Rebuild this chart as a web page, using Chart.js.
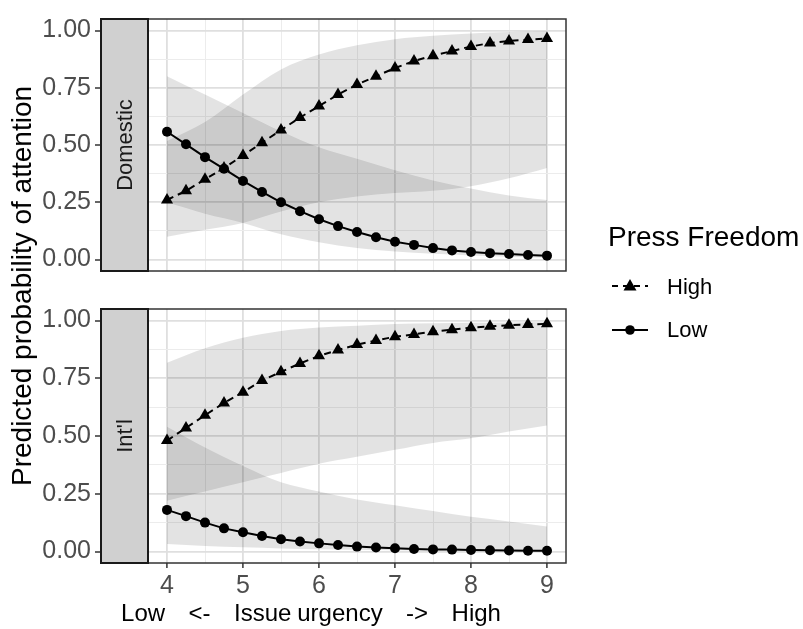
<!DOCTYPE html>
<html>
<head>
<meta charset="utf-8">
<script src="https://cdn.jsdelivr.net/npm/chart.js@4.4.1/dist/chart.umd.min.js"></script>
<style>
  body { margin: 0; background: #fff; font-family: "Liberation Sans", Arial, sans-serif; }
  #wrap { position: relative; width: 803px; height: 629px; overflow: hidden; background: #fff; }
  canvas { position: absolute; left: 0; }
  #ytitle { position: absolute; left: 22px; top: 286px; transform: translate(-50%, -50%) rotate(-90deg);
            white-space: nowrap; font-size: 28px; color: #000; }
  #xtitle { position: absolute; left: 311px; top: 613px; transform: translate(-50%, -50%);
            white-space: pre; word-spacing: -0.8px; font-size: 24px; color: #000; }
  .leg { position: absolute; white-space: nowrap; transform: translateY(-50%); color: #000; }
</style>
</head>
<body>
<div id="wrap">
  <canvas id="domChart" width="803" height="290" style="top:0px"></canvas>
  <canvas id="intChart" width="803" height="310" style="top:290px"></canvas>
  <div id="ytitle">Predicted probability of attention</div>
  <div id="xtitle">Low    &lt;-    Issue urgency    -&gt;    High</div>
  <div class="leg" style="left:608px; top:237px; font-size:28px;">Press Freedom</div>
  <svg style="position:absolute; left:608px; top:270px;" width="46" height="76">
    <line x1="4" y1="16" x2="40" y2="16" stroke="#000" stroke-width="2" stroke-dasharray="6,5"/>
    <polygon points="22,9 28.5,20.5 15.5,20.5" fill="#000"/>
    <line x1="4" y1="60" x2="40" y2="60" stroke="#000" stroke-width="2"/>
    <circle cx="22" cy="60" r="4.8" fill="#000"/>
  </svg>
  <div class="leg" style="left:667px; top:287px; font-size:22px;">High</div>
  <div class="leg" style="left:667px; top:330px; font-size:22px;">Low</div>
</div>
<script>
// issue urgency values where the fitted points sit
const urgency = [4, 4.25, 4.5, 4.75, 5, 5.25, 5.5, 5.75, 6, 6.25, 6.5, 6.75, 7, 7.25, 7.5, 7.75, 8, 8.25, 8.5, 8.75, 9];

// predicted probabilities
const domHigh = [0.26, 0.30, 0.35, 0.40, 0.454, 0.51, 0.565, 0.62, 0.67, 0.72, 0.764, 0.80, 0.836, 0.867, 0.89, 0.91, 0.93, 0.945, 0.954, 0.96, 0.965];
const domLow = [0.558, 0.503, 0.447, 0.396, 0.343, 0.295, 0.25, 0.211, 0.176, 0.146, 0.12, 0.097, 0.078, 0.064, 0.05, 0.04, 0.033, 0.028, 0.024, 0.02, 0.017];
const intHigh = [0.48, 0.535, 0.59, 0.643, 0.69, 0.74, 0.778, 0.814, 0.847, 0.872, 0.896, 0.914, 0.93, 0.94, 0.952, 0.96, 0.969, 0.975, 0.98, 0.983, 0.986];
const intLow = [0.18, 0.153, 0.125, 0.10, 0.083, 0.067, 0.053, 0.043, 0.035, 0.028, 0.021, 0.017, 0.014, 0.011, 0.009, 0.008, 0.006, 0.005, 0.004, 0.003, 0.003];

// confidence bands
const ciX = [4, 4.5, 5, 5.5, 6, 6.5, 7, 7.5, 8, 8.5, 9];
const domHighLo = [0.10, 0.13, 0.16, 0.21, 0.25, 0.275, 0.29, 0.30, 0.32, 0.355, 0.40];
const domHighHi = [0.517, 0.60, 0.72, 0.83, 0.895, 0.935, 0.962, 0.977, 0.987, 0.993, 0.996];
const domLowLo = [0.25, 0.20, 0.16, 0.11, 0.075, 0.05, 0.035, 0.025, 0.018, 0.012, 0.008];
const domLowHi = [0.80, 0.72, 0.64, 0.56, 0.49, 0.44, 0.39, 0.345, 0.31, 0.28, 0.26];
const intHighLo = [0.22, 0.26, 0.30, 0.34, 0.38, 0.41, 0.44, 0.47, 0.49, 0.52, 0.546];
const intHighHi = [0.817, 0.88, 0.925, 0.955, 0.97, 0.978, 0.985, 0.988, 0.99, 0.992, 0.993];
const intLowLo = [0.032, 0.024, 0.018, 0.013, 0.01, 0.007, 0.005, 0.004, 0.003, 0.002, 0.001];
const intLowHi = [0.54, 0.45, 0.37, 0.30, 0.26, 0.225, 0.20, 0.175, 0.15, 0.13, 0.108];

// tick positions
const xTicks = [4, 4.5, 5, 5.5, 6, 6.5, 7, 7.5, 8, 8.5, 9];
const yTicks = [0, 0.125, 0.25, 0.375, 0.5, 0.625, 0.75, 0.875, 1];

const FONT = '"Liberation Sans", Arial, sans-serif';
const STRIP_LEFT = 101;

function pts(xs, ys) {
    return xs.map(function (x, i) { return { x: x, y: ys[i] }; });
}

function isMajorX(v) { return Math.abs(v - Math.round(v)) < 1e-9; }
function isMajorY(v) { return Math.abs(v * 4 - Math.round(v * 4)) < 1e-9; }

// panel border + facet strip on the left
const panelDeco = {
    id: 'panelDeco',
    afterDraw(chart, args, opts) {
        const ctx = chart.ctx;
        const a = chart.chartArea;
        ctx.save();
        ctx.lineWidth = 1.5;
        ctx.strokeStyle = '#333';
        ctx.strokeRect(a.left, a.top, a.right - a.left, a.bottom - a.top);
        ctx.fillStyle = '#d0d0d0';
        ctx.fillRect(STRIP_LEFT, a.top, a.left - STRIP_LEFT, a.bottom - a.top);
        ctx.strokeStyle = '#1a1a1a';
        ctx.lineWidth = 2;
        ctx.strokeRect(STRIP_LEFT, a.top, a.left - STRIP_LEFT, a.bottom - a.top);
        ctx.translate((STRIP_LEFT + a.left) / 2, (a.top + a.bottom) / 2);
        ctx.rotate(-Math.PI / 2);
        ctx.font = '22px ' + FONT;
        ctx.fillStyle = '#1a1a1a';
        ctx.textAlign = 'center';
        ctx.textBaseline = 'middle';
        ctx.fillText(opts.label, 0, 1);
        ctx.restore();
    }
};

function lineSet(data, dashed) {
    return {
        data: data,
        order: 0,
        borderColor: '#000',
        borderWidth: 2,
        borderDash: dashed ? [7, 5] : [],
        pointStyle: dashed ? 'triangle' : 'circle',
        pointRadius: dashed ? 7 : 5,
        pointBackgroundColor: '#000',
        pointBorderWidth: 0,
        fill: false
    };
}

function bandSets(lo, hi) {
    return [
        { data: pts(ciX, lo), order: 1, borderWidth: 0, pointRadius: 0, fill: false, cubicInterpolationMode: 'monotone' },
        { data: pts(ciX, hi), order: 1, borderWidth: 0, pointRadius: 0, fill: '-1',
          backgroundColor: 'rgba(0,0,0,0.11)', cubicInterpolationMode: 'monotone' }
    ];
}

function makeChart(id, label, high, low, bandHigh, bandLow, showX) {
    const datasets = [lineSet(pts(urgency, high), true), lineSet(pts(urgency, low), false)]
        .concat(bandSets(bandHigh[0], bandHigh[1]))
        .concat(bandSets(bandLow[0], bandLow[1]));

    return new Chart(id, {
        type: 'line',
        data: { datasets: datasets },
        plugins: [panelDeco],
        options: {
            responsive: false,
            animation: false,
            layout: { padding: { left: 0, right: 237, top: showX ? 7 : 12, bottom: showX ? 0 : 13 } },
            plugins: { legend: { display: false }, tooltip: { enabled: false }, panelDeco: { label: label } },
            scales: {
                x: {
                    type: 'linear', min: 3.75, max: 9.25,
                    afterBuildTicks: function (s) { s.ticks = xTicks.map(function (v) { return { value: v }; }); },
                    afterFit: function (s) { s.height = showX ? 37 : 0; },
                    border: { display: false },
                    grid: {
                        drawTicks: showX,
                        tickLength: 5,
                        color: function (c) { return isMajorX(c.tick.value) ? '#dfdfdf' : '#ececec'; },
                        lineWidth: function (c) { return isMajorX(c.tick.value) ? 1.8 : 1; },
                        tickColor: function (c) { return isMajorX(c.tick.value) ? '#333' : 'rgba(0,0,0,0)'; },
                        tickWidth: 1.5
                    },
                    ticks: {
                        display: showX, autoSkip: false, maxRotation: 0, padding: 3,
                        color: '#4d4d4d', font: { family: FONT, size: 25 },
                        callback: function (v) { return isMajorX(v) ? String(v) : ''; }
                    }
                },
                y: {
                    type: 'linear', min: -0.05, max: 1.05,
                    afterBuildTicks: function (s) { s.ticks = yTicks.map(function (v) { return { value: v }; }); },
                    afterFit: function (s) { s.width = 148; },
                    border: { display: false },
                    grid: {
                        tickLength: 53,
                        color: function (c) { return isMajorY(c.tick.value) ? '#dfdfdf' : '#ececec'; },
                        lineWidth: function (c) { return isMajorY(c.tick.value) ? 1.8 : 1; },
                        tickColor: function (c) { return isMajorY(c.tick.value) ? '#333' : 'rgba(0,0,0,0)'; },
                        tickWidth: 1.5
                    },
                    ticks: {
                        autoSkip: false, padding: 4,
                        color: '#4d4d4d', font: { family: FONT, size: 25 },
                        callback: function (v) { return isMajorY(v) ? v.toFixed(2) : ''; }
                    }
                }
            }
        }
    });
}

makeChart('domChart', 'Domestic', domHigh, domLow, [domHighLo, domHighHi], [domLowLo, domLowHi], false);
makeChart('intChart', "Int'l", intHigh, intLow, [intHighLo, intHighHi], [intLowLo, intLowHi], true);
</script>
</body>
</html>
